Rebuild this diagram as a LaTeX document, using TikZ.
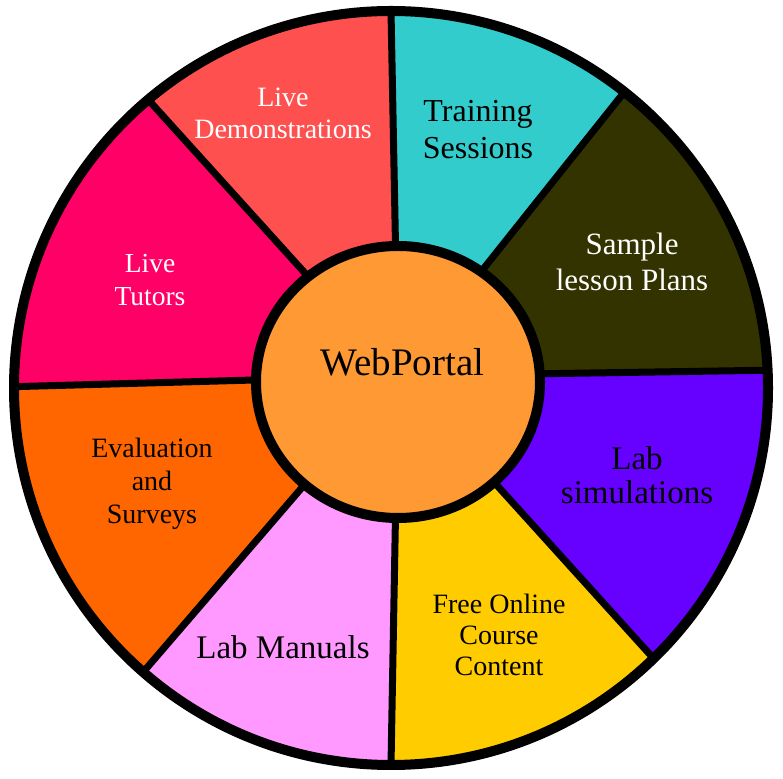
\documentclass[tikz,border=0pt]{standalone}
\usepackage{fontspec}
\setmainfont{Liberation Serif}
\definecolor{cSample}{HTML}{333300}
\definecolor{cTrain}{HTML}{33CCCC}
\definecolor{cDemo}{HTML}{FF5050}
\definecolor{cTutor}{HTML}{FF0066}
\definecolor{cEval}{HTML}{FF6600}
\definecolor{cManual}{HTML}{FF99FF}
\definecolor{cFree}{HTML}{FFCC00}
\definecolor{cSim}{HTML}{6600FF}
\definecolor{cHub}{HTML}{FF9933}
\tikzset{
  divider/.style={line width=7pt, black},
  rim/.style={line width=10pt, black},
  hub/.style={fill=cHub, draw=black, line width=10pt},
  lbl/.style={align=center, inner sep=0pt},
}
\newcommand{\myslice}[3]{%
  \fill[#3] (C) -- ([shift={(O)}]#1:377pt) arc[start angle=#1, end angle=#2, radius=377pt] -- cycle;}
\begin{document}
\begin{tikzpicture}[x=1pt,y=1pt]
\useasboundingbox (0,0) rectangle (783,778);
\fill[white] (0,0) rectangle (783,778);
\coordinate (O) at (391,390);
\coordinate (C) at (398,402);
\coordinate (H) at (398,396);
\myslice{2.7}{51.75}{cSample}
\myslice{51.75}{90}{cTrain}
\myslice{90}{130.1}{cDemo}
\myslice{130.1}{179.8}{cTutor}
\myslice{179.8}{228.9}{cEval}
\myslice{228.9}{270}{cManual}
\myslice{270}{314.15}{cFree}
\myslice{314.15}{362.7}{cSim}
\foreach \a in {2.7,51.75,90,130.1,179.8,228.9,270,314.15}
  \draw[divider] (C) -- ([shift={(O)}]\a:377pt);
\draw[rim] (O) circle[radius=377pt];
\draw[hub] (H) ellipse[x radius=142pt, y radius=136pt];
\node[lbl, font=\fontsize{39}{42}\selectfont] (hubtext) at (402.5,416) {WebPortal};
\node[lbl, white, font=\fontsize{28}{32}\selectfont] (demo) at (283,665) {Live\\Demonstrations};
\node[lbl, font=\fontsize{32}{37}\selectfont] (train) at (478,648) {Training\\Sessions};
\node[lbl, white, font=\fontsize{31}{36}\selectfont] (sample) at (632,516) {Sample\\lesson Plans};
\node[lbl, white, font=\fontsize{27.5}{33}\selectfont] (tutor) at (150,498) {Live\\Tutors};
\node[lbl, font=\fontsize{28}{33}\selectfont] (eval) at (152,294) {Evaluation\\and\\Surveys};
\node[lbl, font=\fontsize{33}{34}\selectfont] (sim) at (637,303) {Lab\\simulations};
\node[lbl, font=\fontsize{33}{36}\selectfont] (manual) at (283,131) {Lab Manuals};
\node[lbl, font=\fontsize{28}{31}\selectfont] (free) at (499,143) {Free Online\\Course\\Content};
\end{tikzpicture}
\end{document}
